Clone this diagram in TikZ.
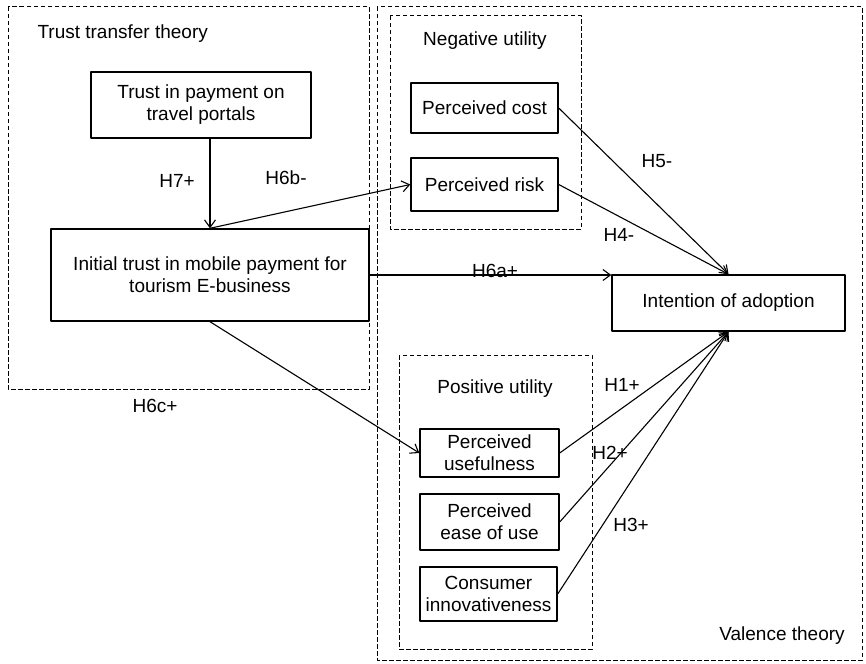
\documentclass[tikz,border=0pt]{standalone}
\usepackage{fontspec}
\setmainfont{Liberation Sans}
\usetikzlibrary{arrows.meta}
\begin{document}
\begin{tikzpicture}[x=1pt,y=-1pt, line join=round,
    font=\fontsize{19}{22}\selectfont,
    >={Straight Barb[length=7.5pt,width=11pt]},
    group/.style={dashed, dash pattern=on 4.5pt off 2.5pt, line width=1pt},
    var/.style={draw, line width=1.4pt, align=center, inner sep=0pt},
    link/.style={->, line width=1.1pt},
    hyp/.style={inner sep=1pt}]
    \useasboundingbox (0,0) rectangle (866,663);
    % theory frames
    \draw[group] (8,7) rectangle (369,389);
    \draw[group] (377,7) rectangle (862,660);
    \draw[group] (390,16) rectangle (581,229);
    \draw[group] (399,355) rectangle (592,649);
    \node[anchor=west] (ttt) at (34,34) {Trust transfer theory};
    \node (valence) at (782,636) {Valence theory};
    \node (negu) at (485,41) {Negative utility};
    \node (posu) at (495,389) {Positive utility};
    % constructs
    \node[var, minimum width=220, minimum height=66] (portal) at (201,105) {Trust in payment on\\travel portals};
    \node[var, minimum width=318, minimum height=92] (init) at (210,275) {Initial trust in mobile payment for\\tourism E-business};
    \node[var, minimum width=147, minimum height=50] (cost) at (484.5,108) {Perceived cost};
    \node[var, minimum width=147, minimum height=53] (risk) at (484.5,184.5) {Perceived risk};
    \node[var, minimum width=233, minimum height=56] (intent) at (728.5,303) {Intention of adoption};
    \node[var, minimum width=139, minimum height=48] (useful) at (489.5,453) {Perceived\\usefulness};
    \node[var, minimum width=139, minimum height=56] (ease) at (489.5,522) {Perceived\\ease of use};
    \node[var, minimum width=137, minimum height=54] (innov) at (488.5,594) {Consumer\\innovativeness};
    % paths
    \draw[link] (init.north |- portal.south) -- (init.north);
    \draw[link] (init.north) -- (risk.west);
    \draw[link] (init.east) -- (init.east -| intent.west);
    \draw[link] (init.south) -- (useful.west);
    \draw[link] (cost.east) -- (intent.north);
    \draw[link] (risk.east) -- (intent.north);
    \draw[link] (useful.east) -- (intent.south);
    \draw[link] (ease.east) -- (intent.south);
    \draw[link] (innov.east) -- (intent.south);
    % hypotheses
    \node[hyp] (h7) at (177,181) {H7+};
    \node[hyp] (h6b) at (286,178) {H6b-};
    \node[hyp] (h6a) at (495,271) {H6a+};
    \node[hyp] (h6c) at (155,406) {H6c+};
    \node[hyp] (h5) at (657,161) {H5-};
    \node[hyp] (h4) at (619,235) {H4-};
    \node[hyp] (h1) at (622,385) {H1+};
    \node[hyp] (h2) at (610,453) {H2+};
    \node[hyp] (h3) at (631,525) {H3+};
\end{tikzpicture}
\end{document}
